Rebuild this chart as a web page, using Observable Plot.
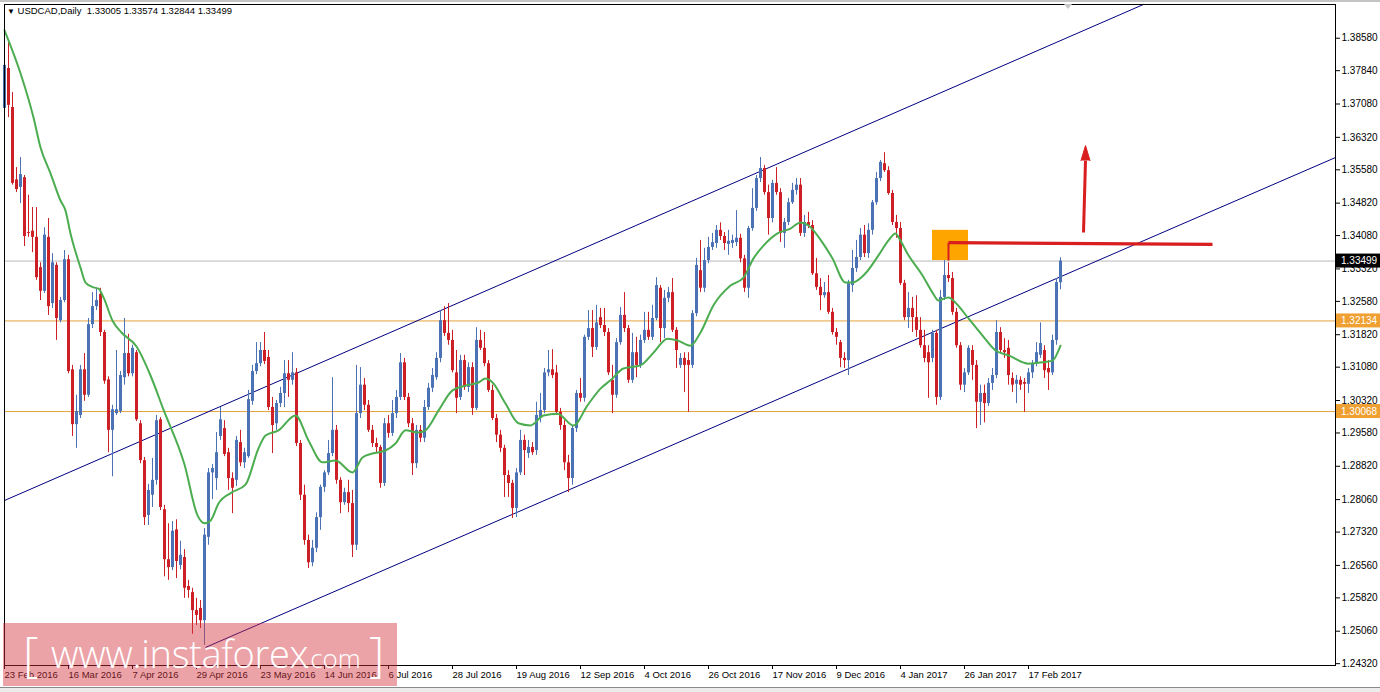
<!DOCTYPE html>
<html><head><meta charset="utf-8">
<script src="https://cdn.jsdelivr.net/npm/d3@7"></script>
<script src="https://cdn.jsdelivr.net/npm/@observablehq/plot@0.6"></script>
<style>
body{margin:0;background:#fff;}
#wrap{position:relative;width:1380px;height:692px;overflow:hidden;font-family:"Liberation Sans",Arial,sans-serif;}
#title{position:absolute;left:7px;top:5px;font-size:9.5px;white-space:pre;color:#000;}
#title .tri{font-size:8px;}
#shift{position:absolute;left:1064px;top:4px;width:0;height:0;border-left:4px solid transparent;border-right:4px solid transparent;border-top:5px solid #c8c8c8;}
#topband{position:absolute;left:0;top:0;width:1380px;height:2px;background:#c4c4c4;}
#botband{position:absolute;left:0;top:687px;width:1380px;height:5px;background:#ececec;border-top:1px solid #8a8a8a;}
#wm{position:absolute;left:3px;top:623px;width:394px;height:63px;background:rgba(212,52,62,0.45);color:#fff;font-family:"Open Sans","Liberation Sans",sans-serif;white-space:pre;}
#wm span{position:absolute;line-height:1;font-weight:300;}
#wm .b{top:6px;font-size:48px;}
#wm .w{left:48px;top:11px;font-size:38px;letter-spacing:-0.3px;}
#wm .c{left:301px;top:22px;font-size:26px;}
</style></head><body>
<div id="wrap"><div id="chart"></div>
<div id="topband"></div>
<div id="title"><span class="tri">▼</span> USDCAD,Daily  1.33005 1.33574 1.32844 1.33499</div>
<div id="shift"></div>
<div id="botband"></div>
<div id="wm"><span class="b" style="left:20px">[</span><span class="w">www.instaforex</span><span class="c">.com</span><span class="b" style="left:366px">]</span></div>
</div>
<script>
// ---- date tick labels (bar index -> label) ----
const dateTickBars = [0,16,32,48,64,80,96,112,128,144,160,176,192,208,224,240,256];
const dateTickLabels = ["23 Feb 2016","16 Mar 2016","7 Apr 2016","29 Apr 2016","23 May 2016","14 Jun 2016","6 Jul 2016","28 Jul 2016","19 Aug 2016","12 Sep 2016","4 Oct 2016","26 Oct 2016","17 Nov 2016","9 Dec 2016","4 Jan 2017","26 Jan 2017","17 Feb 2017"];
// ---- price ticks ----
const priceTicks = [1.24320,1.25060,1.25820,1.26560,1.27320,1.28060,1.28820,1.29580,1.30320,1.31080,1.31820,1.32580,1.33320,1.34080,1.34820,1.35580,1.36320,1.37080,1.37840,1.38580];
// ---- daily OHLC ----
const opens = [1.3698,1.3789,1.3700,1.3535,1.3518,1.3540,1.3415,1.3418,1.3404,1.3335,
1.3281,1.3404,1.3253,1.3340,1.3214,1.3260,1.3353,1.3102,1.2977,1.2998,
1.3102,1.3044,1.3205,1.3246,1.3274,1.3187,1.3079,1.2964,1.3002,1.3007,
1.3084,1.3139,1.3093,1.3141,1.2979,1.2895,1.2770,1.2816,1.2850,1.2988,
1.2783,1.2669,1.2651,1.2737,1.2656,1.2674,1.2608,1.2594,1.2553,1.2558,
1.2530,1.2720,1.2867,1.2854,1.2950,1.2968,1.2913,1.2854,1.2850,1.2936,
1.2890,1.2904,1.3030,1.3098,1.3116,1.3146,1.3130,1.3016,1.2979,1.3025,
1.3048,1.3093,1.3078,1.3095,1.2934,1.2816,1.2713,1.2662,1.2695,1.2765,
1.2834,1.2867,1.2911,1.2964,1.2850,1.2799,1.2822,1.2797,1.2702,1.3002,
1.3067,1.3021,1.2964,1.2934,1.2925,1.2843,1.2979,1.2957,1.3002,1.3039,
1.3118,1.3039,1.2979,1.2888,1.2964,1.2946,1.3016,1.3060,1.3084,1.3128,
1.3214,1.3185,1.3169,1.3095,1.3039,1.3123,1.3062,1.3107,1.3014,1.3169,
1.3151,1.3116,1.3055,1.2991,1.2953,1.2923,1.2861,1.2843,1.2786,1.2867,
1.2941,1.2911,1.2925,1.2918,1.2991,1.3009,1.3095,1.3102,1.3095,1.3005,
1.2975,1.2890,1.2854,1.2968,1.3048,1.3037,1.3176,1.3196,1.3153,1.3221,
1.3203,1.3187,1.3078,1.3044,1.3164,1.3226,1.3196,1.3078,1.3141,1.3112,
1.3169,1.3192,1.3176,1.3219,1.3288,1.3196,1.3265,1.3278,1.3192,1.3112,
1.3128,1.3123,1.3112,1.3230,1.3328,1.3288,1.3351,1.3381,1.3390,1.3420,
1.3406,1.3388,1.3390,1.3392,1.3402,1.3355,1.3288,1.3424,1.3470,1.3538,
1.3561,1.3506,1.3447,1.3527,1.3506,1.3413,1.3438,1.3483,1.3511,1.3523,
1.3413,1.3438,1.3431,1.3321,1.3290,1.3271,1.3278,1.3233,1.3187,1.3164,
1.3128,1.3123,1.3294,1.3333,1.3358,1.3409,1.3367,1.3420,1.3483,1.3538,
1.3572,1.3556,1.3504,1.3438,1.3424,1.3299,1.3221,1.3242,1.3221,1.3192,
1.3157,1.3141,1.3128,1.3185,1.3039,1.3267,1.3317,1.3310,1.3233,1.3157,
1.3067,1.3095,1.3146,1.3112,1.3028,1.3048,1.3025,1.3071,1.3089,1.3187,
1.3146,1.3151,1.3082,1.3069,1.3078,1.3073,1.3069,1.3095,1.3116,1.3135,
1.3146,1.3105,1.3095,1.3169,1.33005];
const highs = [1.3823,1.3853,1.3734,1.3563,1.3586,1.3545,1.3500,1.3472,1.3472,1.3346,
1.3426,1.3447,1.3367,1.3346,1.3267,1.3374,1.3363,1.3112,1.3044,1.3112,
1.3139,1.3219,1.3278,1.3288,1.3288,1.3192,1.3086,1.3021,1.3146,1.3098,
1.3219,1.3183,1.3158,1.3146,1.2986,1.2902,1.2841,1.2900,1.2998,1.2993,
1.2793,1.2751,1.2756,1.2760,1.2711,1.2692,1.2622,1.2604,1.2581,1.2576,
1.2740,1.2877,1.2886,1.2959,1.3016,1.2986,1.2923,1.2867,1.2950,1.2964,
1.2923,1.3055,1.3112,1.3164,1.3164,1.3187,1.3146,1.3039,1.3032,1.3062,
1.3123,1.3123,1.3141,1.3105,1.2941,1.2839,1.2725,1.2713,1.2776,1.2839,
1.2872,1.2941,1.3084,1.2975,1.2856,1.2832,1.2850,1.2827,1.3112,1.3107,
1.3082,1.3032,1.2975,1.2946,1.2930,1.2991,1.2998,1.3032,1.3055,1.3139,
1.3128,1.3048,1.2991,1.2975,1.2975,1.3032,1.3071,1.3105,1.3141,1.3237,
1.3246,1.3253,1.3192,1.3146,1.3135,1.3135,1.3118,1.3118,1.3198,1.3192,
1.3187,1.3123,1.3067,1.3000,1.2964,1.2930,1.2872,1.2850,1.2877,1.2964,
1.2953,1.2941,1.2936,1.3028,1.3048,1.3105,1.3146,1.3148,1.3112,1.3014,
1.2986,1.2907,1.2975,1.3055,1.3082,1.3181,1.3237,1.3237,1.3249,1.3242,
1.3242,1.3196,1.3112,1.3173,1.3244,1.3278,1.3203,1.3185,1.3176,1.3181,
1.3233,1.3233,1.3249,1.3312,1.3294,1.3283,1.3290,1.3310,1.3198,1.3139,
1.3141,1.3141,1.3237,1.3356,1.3397,1.3379,1.3404,1.3413,1.3431,1.3437,
1.3415,1.3420,1.3409,1.3465,1.3411,1.3363,1.3429,1.3515,1.3545,1.3586,
1.3568,1.3523,1.3534,1.3563,1.3515,1.3447,1.3493,1.3527,1.3538,1.3538,
1.3454,1.3461,1.3442,1.3356,1.3310,1.3301,1.3317,1.3242,1.3196,1.3169,
1.3141,1.3306,1.3374,1.3397,1.3424,1.3431,1.3435,1.3488,1.3552,1.3579,
1.3597,1.3565,1.3511,1.3454,1.3438,1.3306,1.3278,1.3267,1.3271,1.3221,
1.3192,1.3157,1.3192,1.3192,1.3283,1.3351,1.3346,1.3324,1.3242,1.3164,
1.3105,1.3157,1.3157,1.3123,1.3067,1.3067,1.3082,1.3105,1.3214,1.3198,
1.3173,1.3169,1.3095,1.3089,1.3086,1.3082,1.3105,1.3123,1.3164,1.3209,
1.3157,1.3123,1.3181,1.3310,1.33574];
const lows = [1.3693,1.3677,1.3523,1.3506,1.3481,1.3383,1.3404,1.3369,1.3306,1.3260,
1.3276,1.3226,1.3242,1.3169,1.3209,1.3255,1.3093,1.2950,1.2923,1.2991,
1.3030,1.3039,1.3196,1.3237,1.3178,1.3069,1.2913,1.2858,1.2998,1.3002,
1.3067,1.3086,1.3086,1.2984,1.2888,1.2747,1.2747,1.2788,1.2839,1.2781,
1.2630,1.2622,1.2644,1.2626,1.2646,1.2581,1.2581,1.2499,1.2519,1.2512,
1.2474,1.2702,1.2806,1.2827,1.2941,1.2904,1.2827,1.2774,1.2836,1.2881,
1.2877,1.2900,1.3021,1.3091,1.3109,1.3114,1.3009,1.2911,1.2964,1.3016,
1.3016,1.3039,1.3067,1.2927,1.2804,1.2702,1.2649,1.2653,1.2685,1.2736,
1.2822,1.2861,1.2904,1.2841,1.2774,1.2793,1.2776,1.2674,1.2690,1.2991,
1.3009,1.2959,1.2925,1.2913,1.2832,1.2836,1.2946,1.2950,1.2991,1.3032,
1.3032,1.2970,1.2861,1.2877,1.2936,1.2936,1.3009,1.3050,1.3078,1.3118,
1.3178,1.3158,1.3095,1.3002,1.3032,1.3055,1.3050,1.2998,1.3009,1.3146,
1.3109,1.3050,1.2986,1.2936,1.2913,1.2811,1.2811,1.2763,1.2765,1.2861,
1.2861,1.2900,1.2907,1.2907,1.2981,1.3002,1.3086,1.3082,1.2998,1.2964,
1.2872,1.2822,1.2839,1.2959,1.3028,1.3028,1.3169,1.3130,1.3146,1.3196,
1.3178,1.3089,1.3002,1.3037,1.3158,1.3187,1.3071,1.3071,1.3084,1.3105,
1.3162,1.3169,1.3169,1.3214,1.3164,1.3173,1.3255,1.3187,1.3105,1.3105,
1.3050,1.3005,1.3105,1.3223,1.3278,1.3278,1.3344,1.3374,1.3379,1.3397,
1.3374,1.3363,1.3379,1.3383,1.3346,1.3278,1.3265,1.3418,1.3463,1.3529,
1.3500,1.3409,1.3437,1.3500,1.3392,1.3379,1.3431,1.3479,1.3500,1.3406,
1.3404,1.3424,1.3317,1.3283,1.3237,1.3265,1.3228,1.3181,1.3158,1.3107,
1.3105,1.3089,1.3278,1.3324,1.3351,1.3358,1.3356,1.3409,1.3477,1.3531,
1.3552,1.3500,1.3431,1.3402,1.3294,1.3214,1.3196,1.3187,1.3176,1.3151,
1.3118,1.3037,1.3118,1.3021,1.3032,1.3260,1.3301,1.3226,1.3151,1.3055,
1.3050,1.3089,1.3078,1.2968,1.2975,1.2981,1.3018,1.3055,1.3082,1.3141,
1.3128,1.3067,1.3050,1.3025,1.3055,1.3005,1.3048,1.3082,1.3109,1.3128,
1.3082,1.3055,1.3089,1.3158,1.32844];
const closes = [1.3796,1.3705,1.3527,1.3513,1.3547,1.3406,1.3413,1.3404,1.3312,1.3281,
1.3409,1.3246,1.3346,1.3219,1.3260,1.3353,1.3098,1.2977,1.3007,1.3102,
1.3044,1.3205,1.3246,1.3260,1.3187,1.3076,1.2964,1.3011,1.3011,1.3089,
1.3139,1.3093,1.3151,1.2988,1.2895,1.2765,1.2827,1.2850,1.2986,1.2788,
1.2669,1.2651,1.2734,1.2665,1.2679,1.2604,1.2599,1.2553,1.2542,1.2530,
1.2725,1.2867,1.2877,1.2913,1.2988,1.2909,1.2854,1.2832,1.2941,1.2890,
1.2913,1.3034,1.3098,1.3116,1.3146,1.3121,1.3016,1.2975,1.3025,1.3048,
1.3093,1.3078,1.3095,1.2934,1.2816,1.2713,1.2662,1.2695,1.2765,1.2834,
1.2867,1.2911,1.2964,1.2850,1.2799,1.2822,1.2797,1.2702,1.3002,1.3067,
1.3021,1.2964,1.2934,1.2925,1.2843,1.2979,1.2957,1.3002,1.3039,1.3118,
1.3039,1.2979,1.2888,1.2964,1.2946,1.3016,1.3060,1.3089,1.3128,1.3214,
1.3185,1.3169,1.3100,1.3037,1.3123,1.3062,1.3107,1.3014,1.3169,1.3151,
1.3116,1.3055,1.2991,1.2953,1.2923,1.2861,1.2843,1.2786,1.2867,1.2941,
1.2918,1.2925,1.2913,1.2998,1.3009,1.3095,1.3102,1.3089,1.3005,1.2975,
1.2890,1.2854,1.2968,1.3048,1.3037,1.3176,1.3196,1.3153,1.3209,1.3203,
1.3187,1.3095,1.3044,1.3164,1.3226,1.3196,1.3078,1.3141,1.3112,1.3169,
1.3192,1.3176,1.3219,1.3294,1.3196,1.3265,1.3278,1.3192,1.3146,1.3128,
1.3112,1.3112,1.3230,1.3340,1.3288,1.3351,1.3381,1.3392,1.3420,1.3406,
1.3390,1.3395,1.3397,1.3402,1.3355,1.3288,1.3424,1.3470,1.3538,1.3561,
1.3506,1.3447,1.3527,1.3506,1.3413,1.3438,1.3483,1.3511,1.3523,1.3413,
1.3438,1.3431,1.3321,1.3290,1.3271,1.3278,1.3233,1.3187,1.3176,1.3128,
1.3123,1.3301,1.3333,1.3358,1.3409,1.3367,1.3420,1.3483,1.3538,1.3575,
1.3556,1.3504,1.3438,1.3424,1.3299,1.3221,1.3242,1.3221,1.3192,1.3157,
1.3128,1.3118,1.3185,1.3039,1.3267,1.3317,1.3310,1.3233,1.3157,1.3067,
1.3095,1.3151,1.3112,1.3028,1.3048,1.3025,1.3071,1.3089,1.3187,1.3146,
1.3141,1.3089,1.3067,1.3078,1.3067,1.3069,1.3095,1.3116,1.3141,1.3162,
1.3100,1.3095,1.3169,1.3301,1.33499];
// ---- moving average (green), sampled along the line ----
const maBars = [0,4,7.25,9,11.5,14,15.25,16.5,19,20.25,22.25,23.5,24.75,27,29.25,33,36.5,39.75,45,48.25,50,51.5,53.5,56.75,60.25,63.5,65.25,68.5,72.75,76,79.5,82.75,87,89.5,92,95.25,97.75,100.25,103.5,105.25,108.5,112,115.25,118.5,120.25,122,125.25,128.5,131.5,134.75,138.25,142.25,145.75,149,151.5,154.75,159,162.25,165.75,168.25,171.5,174,177.25,181.5,184.75,187.25,189.75,193.25,196.5,199,201,204.5,207,210.25,212,215.25,218.5,221,222.75,223.5,226,229.5,232,233.5,236,237.75,241,244.5,247.75,251,256,259.5,262,264];
const maValues = [1.3876,1.3778,1.3677,1.3609,1.3550,1.3488,1.3465,1.3413,1.3335,1.3301,1.3290,1.3287,1.3267,1.3214,1.3187,1.3155,1.3089,1.3011,1.2886,1.2770,1.2752,1.2758,1.2797,1.2822,1.2840,1.2923,1.2952,1.2964,1.2998,1.2941,1.2891,1.2895,1.2868,1.2902,1.2911,1.2918,1.2934,1.2964,1.2959,1.2964,1.3009,1.3055,1.3066,1.3073,1.3082,1.3073,1.3025,1.2980,1.2975,1.2998,1.3002,1.2975,1.3021,1.3059,1.3078,1.3105,1.3112,1.3141,1.3173,1.3169,1.3157,1.3187,1.3249,1.3294,1.3312,1.3356,1.3385,1.3413,1.3424,1.3438,1.3431,1.3392,1.3356,1.3301,1.3301,1.3322,1.3363,1.3397,1.3413,1.3404,1.3363,1.3317,1.3278,1.3260,1.3267,1.3255,1.3219,1.3180,1.3146,1.3135,1.3116,1.3119,1.3123,1.3157];
// ---- levels and drawn objects ----
const currentPrice = 1.33499;
const levelPrices = [1.32134, 1.30068];
const channelStartBars = [0, 50.25];
const channelStartPrices = [1.2804, 1.2469];
const channelEndBars = [284.75, 332.75];
const channelEndPrices = [1.3935, 1.3586];
const zoneBars = [232, 241];
const zonePrices = [1.3351, 1.3420];
const resistanceBars = [236, 302];
const resistancePrices = [1.3392, 1.3388];
const resistanceFootPrice = 1.3351;
const arrowBars = [269.75, 270.25];
const arrowPrices = [1.3415, 1.3579];

const BLUE = "#4a72b5", RED = "#cc2026", GREEN = "#4cad50", NAVY = "#000080", ORANGE = "#e3a33b", ARED = "#d81e1e";

const data = opens.map((o, i) => ({i, o, h: highs[i], l: lows[i], c: closes[i]}));
const up = data.filter(d => d.c >= d.o);
const dn = data.filter(d => d.c < d.o);
const ma = maBars.map((b, k) => ({b, v: maValues[k]}));
const channels = channelStartBars.map((b, k) => ({b1: b, p1: channelStartPrices[k], b2: channelEndBars[k], p2: channelEndPrices[k]}));
const labelOf = new Map(dateTickBars.map((b, k) => [b, dateTickLabels[k]]));

const marks = [
  Plot.ruleY([currentPrice], {stroke: "#b8b8b8"}),
  Plot.ruleY(levelPrices, {stroke: ORANGE}),
  Plot.link(channels, {x1: "b1", y1: "p1", x2: "b2", y2: "p2", stroke: NAVY, strokeWidth: 1}),
  Plot.rect([0], {x1: () => zoneBars[0], x2: () => zoneBars[1], y1: () => zonePrices[0], y2: () => zonePrices[1], fill: "#ffa500"}),
  Plot.ruleX(up, {x: "i", y1: "l", y2: "h", stroke: BLUE, strokeWidth: 1}),
  Plot.ruleX(dn, {x: "i", y1: "l", y2: "h", stroke: RED, strokeWidth: 1}),
  Plot.ruleX(up, {x: "i", y1: "o", y2: "c", stroke: BLUE, strokeWidth: 3}),
  Plot.ruleX(dn, {x: "i", y1: "o", y2: "c", stroke: RED, strokeWidth: 3}),
  Plot.line(ma, {x: "b", y: "v", stroke: GREEN, strokeWidth: 2, curve: "monotone-x"}),
  Plot.link([0], {x1: () => resistanceBars[0], x2: () => resistanceBars[0], y1: () => resistanceFootPrice, y2: () => resistancePrices[0], stroke: ARED, strokeWidth: 2}),
  Plot.link([0], {x1: () => resistanceBars[0], x2: () => resistanceBars[1], y1: () => resistancePrices[0], y2: () => resistancePrices[1], stroke: ARED, strokeWidth: 3.2}),
  Plot.link([0], {x1: () => arrowBars[0], x2: () => arrowBars[1], y1: () => arrowPrices[0], y2: () => arrowPrices[1], stroke: ARED, strokeWidth: 3}),
  Plot.vector([0], {x: () => arrowBars[1], y: () => arrowPrices[1], length: 15, rotate: 0, shape: "spike", anchor: "start", r: 4.5, fill: ARED, stroke: ARED, strokeWidth: 1}),
  Plot.frame({stroke: "#000"}),
  Plot.axisY(priceTicks, {anchor: "right", tickSize: 4, tickPadding: 2, tickFormat: d => d.toFixed(5), fontSize: 10, label: null}),
  Plot.axisX(dateTickBars, {anchor: "bottom", tickSize: 4, tickPadding: 2, textAnchor: "start", dx: 0, tickFormat: d => labelOf.get(d), fontSize: 9.5, label: null})
];

const plot = Plot.plot({
  width: 1380, height: 692,
  marginTop: 4, marginBottom: 27, marginLeft: 4, marginRight: 45,
  x: {domain: [0, 332.75]},
  y: {domain: [1.24278, 1.393488]},
  style: {fontFamily: "'Liberation Sans', Arial, sans-serif", fontSize: "10px", background: "#fff", color: "#000", overflow: "visible"},
  marks
});
document.getElementById("chart").appendChild(plot);

// price tags on the right axis, positioned with the plot's y scale
const yS = plot.scale("y");
const tags = [
  {p: currentPrice, bg: "#000", fg: "#fff"},
  {p: levelPrices[0], bg: "#f0a030", fg: "#fff"},
  {p: levelPrices[1], bg: "#f0a030", fg: "#fff"}
];
const svg = d3.select(plot);
for (const t of tags) {
  const yy = yS.apply(t.p);
  svg.append("rect").attr("x", 1336).attr("y", yy - 7).attr("width", 44).attr("height", 14).attr("fill", t.bg);
  svg.append("text").attr("x", 1341).attr("y", yy).attr("dy", "0.35em").attr("fill", t.fg)
    .attr("text-anchor", "start").attr("font-size", 10)
    .attr("font-family", "'Liberation Sans', Arial, sans-serif").text(t.p.toFixed(5));
}
</script>
</body></html>
